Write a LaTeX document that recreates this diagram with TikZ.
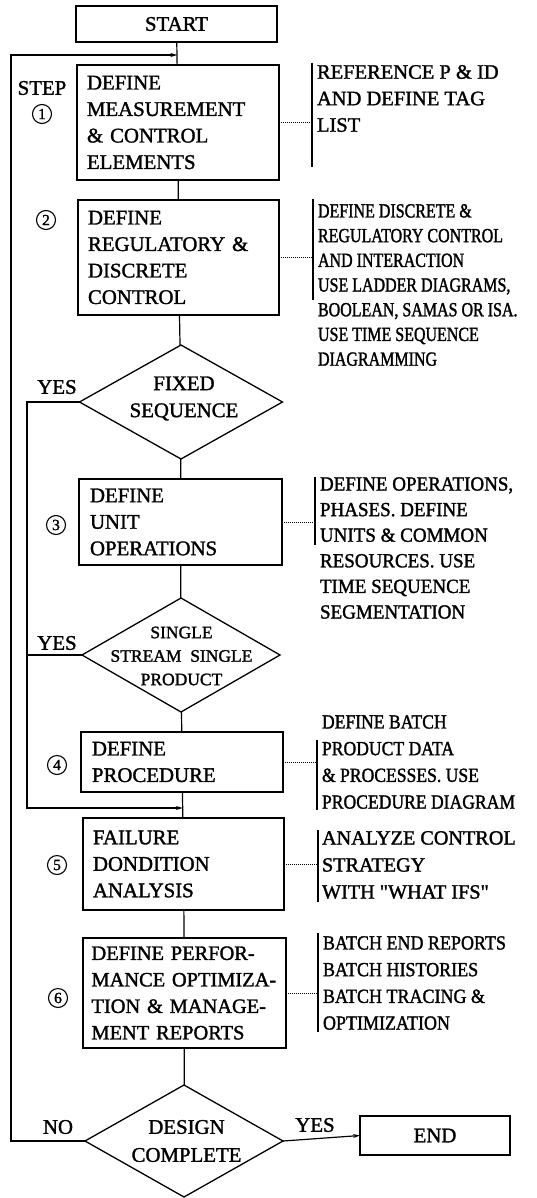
\documentclass[tikz,border=0pt]{standalone}
\usepackage{fontspec}
\setmainfont{Liberation Serif}[RawFeature={embolden=1.5}]
\newfontfamily\condA{Liberation Serif}[FakeStretch=0.8,RawFeature={embolden=1.5}]
\newfontfamily\condB{Liberation Serif}[FakeStretch=0.88,RawFeature={embolden=1.5}]
\newfontfamily\condC{Liberation Serif}[FakeStretch=0.95,RawFeature={embolden=1.5}]
\newfontfamily\condD{Liberation Serif}[FakeStretch=0.9,RawFeature={embolden=1.5}]
\newfontfamily\rawserif{Liberation Serif}[Ligatures=TeXOff,RawFeature={embolden=1.5}]
\usetikzlibrary{shapes.geometric,arrows.meta}
\begin{document}
\begin{tikzpicture}[x=1pt,y=-1pt,
  every node/.style={inner sep=0pt, outer sep=0pt},
  box/.style={draw, line width=1.3pt, align=left, inner xsep=10pt,
    font=\fontsize{20.8}{26.5}\selectfont},
  dia/.style={draw, line width=1.3pt, shape=diamond, inner sep=0pt},
  diatext/.style={align=center},
  lab/.style={font=\fontsize{20.8}{24}\selectfont},
  num/.style={circle, draw, line width=1.1pt, minimum size=19pt,
    font=\fontsize{15.5}{15.5}\selectfont},
  conn/.style={line width=1.2pt},
  arr/.style={line width=1.2pt, -{Stealth[length=7pt,width=4pt]}},
  dotline/.style={line width=0.7pt, dash pattern=on 1pt off 1pt},
  bar/.style={line width=1.2pt},
  note/.style={anchor=west, align=left}
]
\useasboundingbox (0,0) rectangle (537,1198);

% main boxes
\node[box, minimum width=201pt, minimum height=36pt, align=center, inner xsep=0pt] (start) at (176.5,24) {START};
\node[box, text width=182pt, minimum height=115pt] (b1) at (178,122.5)
  {DEFINE\\MEASUREMENT\\\& CONTROL\\ELEMENTS};
\node[box, text width=181pt, minimum height=115pt] (b2) at (178.5,257.5)
  {DEFINE\\REGULATORY \&\\DISCRETE\\CONTROL};
\node[dia, minimum width=203pt, minimum height=114pt] (d1) at (181,402) {};
\node[diatext, font=\fontsize{20.8}{27}\selectfont] (d1t) at (184,398.5) {FIXED\\SEQUENCE};
\node[box, text width=181pt, minimum height=86pt, inner xsep=11pt] (b3) at (180.5,522)
  {DEFINE\\UNIT\\OPERATIONS};
\node[dia, minimum width=198pt, minimum height=114pt] (d2) at (181,655) {};
\node[diatext, font=\fontsize{17.5}{23.5}\selectfont] (d2t) at (181.5,656) {SINGLE\\STREAM\ \ SINGLE\\PRODUCT};
\node[box, text width=180pt, minimum height=60pt, inner xsep=11pt] (b4) at (182,762)
  {DEFINE\\PROCEDURE};
\node[box, text width=181pt, minimum height=92pt] (b5) at (183.5,864)
  {FAILURE\\DONDITION\\ANALYSIS};
\node[box, text width=186pt, minimum height=110pt, inner xsep=8.5pt,
  font=\fontsize{20.4}{26.5}\selectfont] (b6) at (184.5,993)
  {DEFINE PERFOR-\\MANCE OPTIMIZA-\\TION \& MANAGE-\\MENT REPORTS};
\node[dia, minimum width=198pt, minimum height=112pt] (d3) at (184,1141) {};
\node[diatext, font=\fontsize{20.8}{28}\selectfont] (d3t) at (186.5,1141) {DESIGN\\COMPLETE};
\node[box, minimum width=150pt, minimum height=39pt, align=center, inner xsep=0pt] (end) at (435,1135.5) {END};

% step labels
\node[lab] (step) at (42,88) {STEP};
\node[num] (n1) at (42,114) {1};
\node[num] (n2) at (46,220) {2};
\node[num] (n3) at (56,525) {3};
\node[num] (n4) at (57,765) {4};
\node[num] (n5) at (57,865) {5};
\node[num] (n6) at (58,998) {6};

% yes/no labels
\node[lab] (yes1) at (57,387) {YES};
\node[lab] (yes2) at (57,643) {YES};
\node[lab] (no3) at (58,1127) {NO};
\node[lab] (yes3) at (315,1125) {YES};

% main flow
\draw[conn] (start) -- (b1);
\draw[conn] (b1) -- (b2);
\draw[conn] (b2) -- (d1);
\draw[conn] (d1) -- (b3);
\draw[conn] (b3) -- (d2);
\draw[conn] (d2) -- (b4);
\draw[conn] (b4) -- (b5);
\draw[conn] (b5) -- (b6);
\draw[conn] (b6) -- (d3);
\draw[arr] (d3.east) -- (end.west);

% loops
\coordinate (lpB) at (11,55);
\coordinate (j1) at (177.3,55);
\draw[arr] (d3.west) -| (lpB) -- (j1);
\coordinate (yc) at (27,808);
\coordinate (j2) at (182.8,808);
\draw[arr] (d1.west) -| (yc) -- (j2);
\draw[conn] (d2.west) -- (d2.west -| yc);

% side notes
\coordinate (r1t) at (312,63);  \coordinate (r1b) at (312,167);
\coordinate (r2t) at (313,199); \coordinate (r2b) at (313,300);
\coordinate (r3t) at (315,477); \coordinate (r3b) at (315,545);
\coordinate (r4t) at (317,740); \coordinate (r4b) at (317,810);
\coordinate (r5t) at (318,830); \coordinate (r5b) at (318,902);
\coordinate (r6t) at (318,933); \coordinate (r6b) at (318,1032);
\draw[bar] (r1t) -- (r1b);
\draw[bar] (r2t) -- (r2b);
\draw[bar] (r3t) -- (r3b);
\draw[bar] (r4t) -- (r4b);
\draw[bar] (r5t) -- (r5b);
\draw[bar] (r6t) -- (r6b);
\draw[dotline] (b1.east) -- (b1.east -| r1t);
\draw[dotline] (b2.east) -- (b2.east -| r2t);
\draw[dotline] (b3.east) -- (b3.east -| r3t);
\draw[dotline] (b4.east) -- (b4.east -| r4t);
\draw[dotline] (b5.east) -- (b5.east -| r5t);
\draw[dotline] (b6.east) -- (b6.east -| r6t);

\node[note, font=\fontsize{20.5}{26.5}\selectfont] (t1) at (317,98.5)
  {REFERENCE P \& ID\\AND DEFINE TAG\\LIST};
\node[note, font=\condA\fontsize{20}{24.7}\selectfont] (t2) at (318,285)
  {DEFINE DISCRETE \&\\REGULATORY CONTROL\\AND INTERACTION\\USE LADDER DIAGRAMS,\\BOOLEAN, SAMAS OR ISA.\\USE TIME SEQUENCE\\DIAGRAMMING};
\node[note, font=\condC\fontsize{20}{25.6}\selectfont] (t3) at (320,548)
  {DEFINE OPERATIONS,\\PHASES. DEFINE\\UNITS \& COMMON\\RESOURCES. USE\\TIME SEQUENCE\\SEGMENTATION};
\node[note, font=\condB\fontsize{20}{26.7}\selectfont] (t4) at (322,762)
  {DEFINE BATCH\\PRODUCT DATA\\\& PROCESSES. USE\\PROCEDURE DIAGRAM};
\node[note, font=\rawserif\fontsize{20.2}{27}\selectfont] (t5) at (322,865)
  {ANALYZE CONTROL\\STRATEGY\\WITH "WHAT IFS"};
\node[note, font=\condD\fontsize{20}{26.7}\selectfont] (t6) at (323,983)
  {BATCH END REPORTS\\BATCH HISTORIES\\BATCH TRACING \&\\OPTIMIZATION};
\end{tikzpicture}
\end{document}
